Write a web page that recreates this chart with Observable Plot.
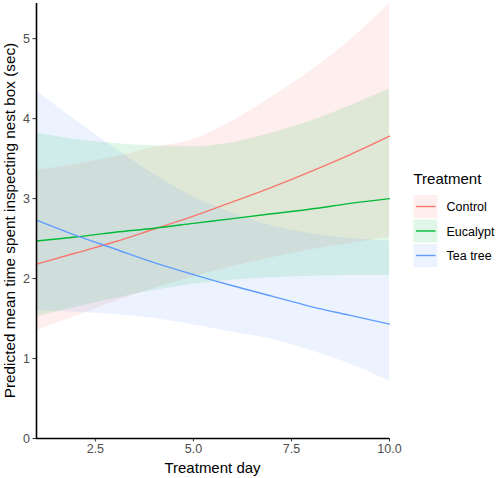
<!DOCTYPE html>
<html>
<head>
<meta charset="utf-8">
<script src="https://cdn.jsdelivr.net/npm/d3@7"></script>
<script src="https://cdn.jsdelivr.net/npm/@observablehq/plot@0.6"></script>
<style>
  html, body { margin: 0; padding: 0; background: #fff; }
  #chart svg { display: block; }
</style>
</head>
<body>
<div id="chart"></div>
<script>
// ---- data ----
const days = [1, 2, 3, 4, 5, 6, 7, 8, 9, 10];
const treatments = ["Control", "Eucalypt", "Tea tree"];
const colors = ["#F8766D", "#00BA38", "#619CFF"];

const controlFit   = [2.18, 2.32, 2.46, 2.62, 2.78, 2.96, 3.14, 3.34, 3.55, 3.78];
const controlLower = [1.35, 1.53, 1.71, 1.88, 2.02, 2.15, 2.26, 2.36, 2.44, 2.52];
const controlUpper = [3.35, 3.43, 3.52, 3.64, 3.74, 3.97, 4.27, 4.60, 4.98, 5.44];

const eucalyptFit   = [2.47, 2.52, 2.58, 2.63, 2.69, 2.75, 2.81, 2.87, 2.94, 3.00];
const eucalyptLower = [1.52, 1.64, 1.75, 1.85, 1.93, 1.98, 2.01, 2.03, 2.04, 2.04];
const eucalyptUpper = [3.82, 3.74, 3.69, 3.66, 3.65, 3.70, 3.82, 3.97, 4.16, 4.37];

const teaFit   = [2.73, 2.54, 2.37, 2.20, 2.05, 1.91, 1.78, 1.65, 1.54, 1.43];
const teaLower = [1.60, 1.58, 1.55, 1.50, 1.42, 1.33, 1.24, 1.10, 0.93, 0.72];
const teaUpper = [4.35, 3.98, 3.63, 3.30, 3.02, 2.82, 2.66, 2.56, 2.50, 2.47];

const xTicks = [2.5, 5.0, 7.5, 10.0];
const yTicks = [0, 1, 2, 3, 4, 5];

const xTitle = "Treatment day";
const yTitle = "Predicted mean time spent inspecting nest box (sec)";
const legendTitle = "Treatment";

// ---- build table ----
const series = [
  [controlFit, controlLower, controlUpper],
  [eucalyptFit, eucalyptLower, eucalyptUpper],
  [teaFit, teaLower, teaUpper]
];
const rows = [];
treatments.forEach((t, i) => {
  const [fit, lo, hi] = series[i];
  days.forEach((d, j) => rows.push({treatment: t, day: d, fit: fit[j], lower: lo[j], upper: hi[j]}));
});

const font = "'Liberation Sans', Arial, sans-serif";
const W = 500, H = 478;

const plot = Plot.plot({
  width: W,
  height: H,
  marginLeft: 36,
  marginRight: 111,
  marginTop: 3,
  marginBottom: 40,
  style: {fontFamily: font, background: "#fff", overflow: "visible"},
  x: {domain: [1, 10]},
  y: {domain: [0, 5.44]},
  color: {domain: treatments, range: colors},
  marks: [
    Plot.areaY(rows, {x: "day", y1: "lower", y2: "upper", z: "treatment", fill: "treatment",
      fillOpacity: 0.12, curve: "monotone-x"}),
    Plot.lineY(rows, {x: "day", y: "fit", z: "treatment", stroke: "treatment",
      strokeWidth: 1.4, curve: "monotone-x"}),
    Plot.axisX({ticks: xTicks, tickFormat: d => d.toFixed(1), tickSize: 3.5, tickPadding: 2,
      fontSize: 12.5, color: "#4D4D4D", stroke: "#333", label: null}),
    Plot.axisY({ticks: yTicks, tickFormat: d => String(d), tickSize: 3.5, tickPadding: 3,
      fontSize: 12.5, color: "#4D4D4D", stroke: "#333", label: null}),
    Plot.ruleX([1], {stroke: "#000", strokeWidth: 1.6}),
    Plot.ruleY([0], {stroke: "#000", strokeWidth: 1.6})
  ]
});

document.getElementById("chart").appendChild(plot);

// ---- titles and legend appended to the SVG ----
const svg = d3.select(plot);
const xs = plot.scale("x");
const ys = plot.scale("y");
const px0 = xs.range[0], px1 = xs.range[1];
const py0 = ys.range[0], py1 = ys.range[1];

svg.append("text")
  .attr("x", (px0 + px1) / 2).attr("y", 472.5)
  .attr("text-anchor", "middle")
  .style("font", `15px ${font}`).attr("fill", "#000")
  .text(xTitle);

svg.append("text")
  .attr("transform", `translate(14.5, ${(py0 + py1) / 2}) rotate(-90)`)
  .attr("text-anchor", "middle")
  .style("font", `15.3px ${font}`).attr("fill", "#000")
  .text(yTitle);

const lg = svg.append("g").attr("text-anchor", "start");
lg.append("text")
  .attr("x", 413.5).attr("y", 184)
  .attr("text-anchor", "start")
  .style("font", `15px ${font}`).attr("fill", "#000")
  .text(legendTitle);

treatments.forEach((t, i) => {
  const top = 195 + i * 24.5;
  lg.append("rect")
    .attr("x", 413.5).attr("y", top).attr("width", 24).attr("height", 23)
    .attr("fill", colors[i]).attr("fill-opacity", 0.12);
  lg.append("line")
    .attr("x1", 416).attr("x2", 435.5)
    .attr("y1", top + 11.5).attr("y2", top + 11.5)
    .attr("stroke", colors[i]).attr("stroke-width", 1.4);
  lg.append("text")
    .attr("x", 446.5).attr("y", top + 11.5).attr("dy", "0.36em")
    .attr("text-anchor", "start")
    .style("font", `12.5px ${font}`).attr("fill", "#000")
    .text(t);
});
</script>
</body>
</html>
